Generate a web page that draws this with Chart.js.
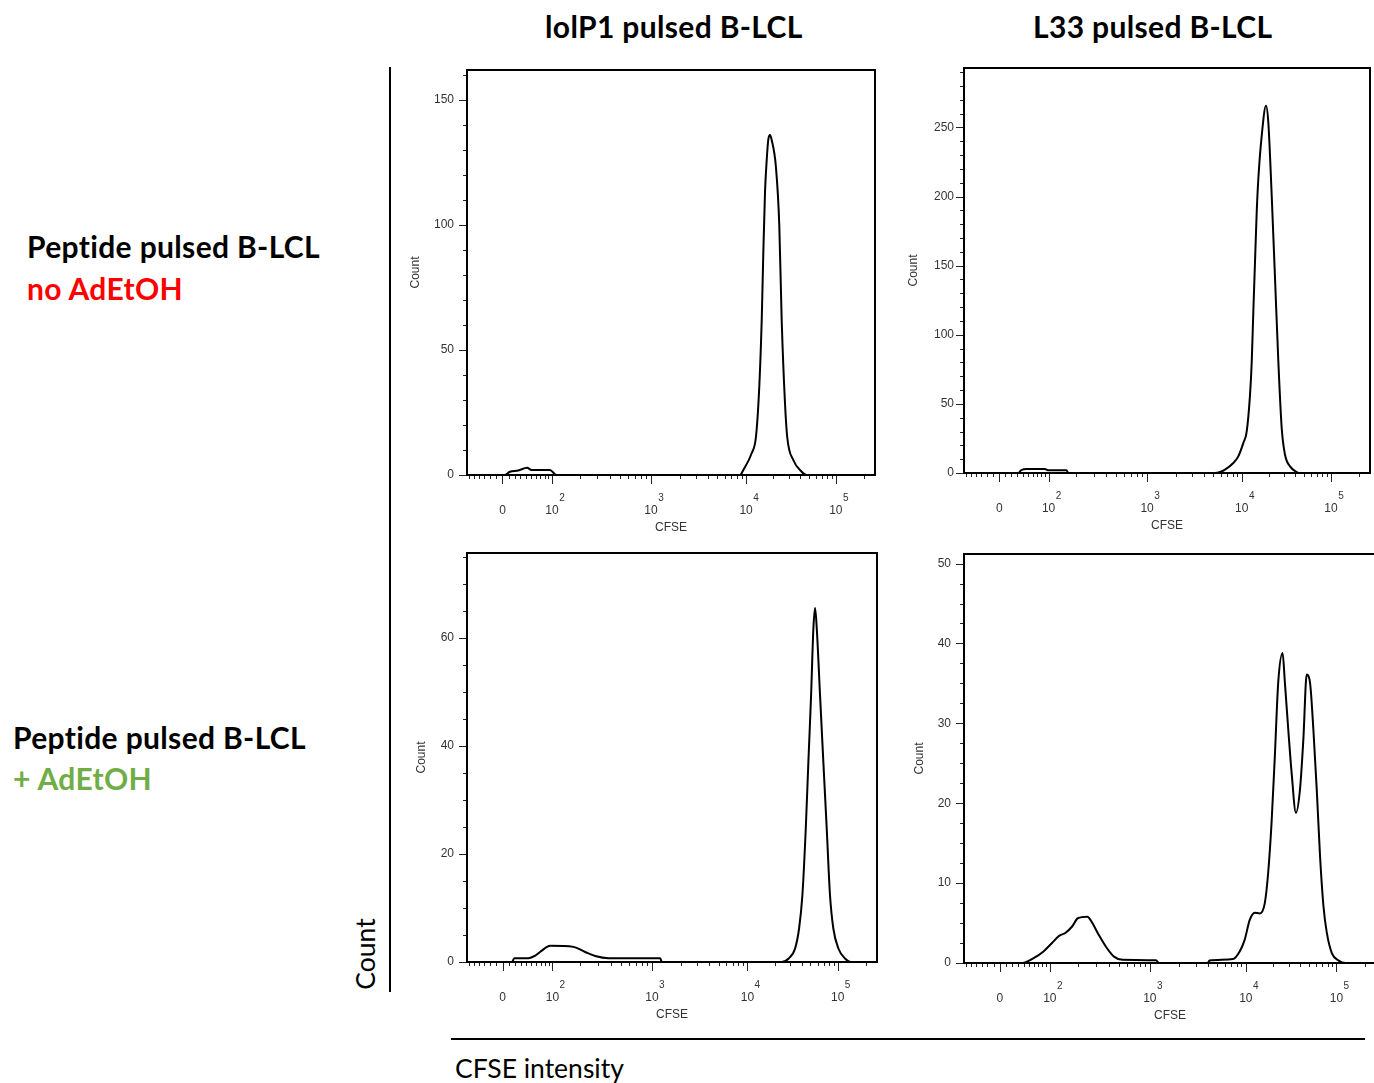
<!DOCTYPE html>
<html><head><meta charset="utf-8">
<script src="https://cdn.jsdelivr.net/npm/chart.js@4.4.0/dist/chart.umd.min.js"></script>
<style>
html,body{margin:0;padding:0;background:#fff;}
body{width:1374px;height:1083px;overflow:hidden;position:relative;font-family:Lato,"Open Sans",sans-serif;}
.t{position:absolute;white-space:nowrap;line-height:1;color:#000;}
.b{font-weight:700;font-size:30px;letter-spacing:0.35px;}
.r{font-weight:400;font-size:26.5px;}
canvas{position:absolute;}
.ln{position:absolute;background:#000;}
</style></head><body>
<div class="t b" style="left:545px;top:11px">lolP1 pulsed B-LCL</div>
<div class="t b" style="left:1033px;top:11px">L33 pulsed B-LCL</div>
<div class="t b" style="left:27px;top:231px">Peptide pulsed B-LCL</div>
<div class="t b" style="left:27px;top:273px;color:#FF0000">no AdEtOH</div>
<div class="t b" style="left:13px;top:722px">Peptide pulsed B-LCL</div>
<div class="t b" style="left:13px;top:763px;color:#70AD47">+ AdEtOH</div>
<div class="ln" style="left:389px;top:67px;width:2px;height:925px"></div>
<div class="t r" style="left:365px;top:954px;transform:translate(-50%,-50%) rotate(-90deg)">Count</div>
<div class="ln" style="left:451px;top:1038px;width:914px;height:2px"></div>
<div class="t r" style="left:455px;top:1055px">CFSE intensity</div>

<canvas id="c1" width="490" height="475" style="left:400px;top:60px"></canvas>
<canvas id="c2" width="490" height="475" style="left:895px;top:58px"></canvas>
<canvas id="c3" width="490" height="479" style="left:400px;top:543px"></canvas>
<canvas id="c4" width="490" height="479" style="left:895px;top:544px"></canvas>

<script>
// ---------- data (CFSE intensity vs cell count) ----------
const xTickValues = [0, 100, 1000, 10000, 100000];
const xTickBase = ['0', '10', '10', '10', '10'];
const xTickExp = ['', '2', '3', '4', '5'];

// lolP1 pulsed, no AdEtOH
const p1X = [-64, 4, 12, 26, 42, 51, 94, 113, 8630, 9350, 11540, 12890, 14030, 14940, 15560, 16250, 16980, 17660, 18460, 19290, 21530, 23440, 24930, 27120, 28770, 33560, 41610, 47340, 262144];
const p1Y = [0, 0, 1.3, 1.8, 2.9, 2, 2, 0, 0, 2, 8.7, 15.3, 35.3, 62, 88.7, 113, 126, 134, 136, 134, 123, 100, 62, 29, 15, 6, 1.3, 0, 0];
const p1YTicks = [0, 50, 100, 150];

// L33 pulsed, no AdEtOH
const p2X = [-64, 32, 37, 48, 90, 98, 158, 165, 5220, 5900, 6660, 8150, 9200, 10420, 11370, 12390, 12950, 13490, 14090, 14720, 15350, 16750, 18710, 19860, 21670, 23610, 25720, 28050, 30550, 34760, 41300, 45000, 262144];
const p2Y = [0, 0, 2, 2.9, 2.9, 2, 2, 0, 0, 0.7, 2.4, 7.2, 12, 21.6, 30, 56.5, 80.5, 116.5, 152.6, 188.7, 212.7, 244, 265.6, 253.6, 200.7, 140.6, 80.5, 32.4, 13.2, 4.8, 0.7, 0, 0];
const p2YTicks = [0, 50, 100, 150, 200, 250];

// lolP1 pulsed, + AdEtOH
const p3X = [-64, 15, 19, 44, 58, 69, 94, 170, 223, 281, 380, 1000, 1221, 1272, 24040, 28440, 33740, 37360, 40640, 44330, 47370, 50760, 53830, 56230, 58710, 63830, 69440, 75670, 82330, 89590, 101800, 120800, 137200, 262144];
const p3Y = [0, 0, 0.7, 0.7, 1.2, 1.9, 3.0, 2.8, 1.85, 1.1, 0.7, 0.7, 0.7, 0, 0, 0.6, 2.5, 6.2, 12.3, 24.7, 37, 49.3, 61.7, 65.5, 61.7, 49.3, 37, 24.7, 12.3, 6.2, 2.5, 0.6, 0, 0];
const p3YTicks = [0, 20, 40, 60];

// L33 pulsed, + AdEtOH
const p4X = [-64, 38, 60, 83, 106, 127, 148, 175, 199, 248, 278, 322, 375, 452, 546, 1158, 1254, 4010, 4190, 7360, 8630, 9730, 11050, 12550, 14260, 16200, 17650, 19220, 20910, 22780, 25450, 26990, 29420, 32030, 35730, 39590, 43150, 46970, 51090, 55670, 60630, 65970, 71900, 78270, 88920, 105500, 124800, 262144];
const p4Y = [0, 0, 0.6, 1.45, 2.5, 3.4, 3.75, 4.6, 5.6, 5.8, 5.0, 3.5, 2.1, 0.8, 0.4, 0.33, 0, 0, 0.3, 0.5, 1.45, 2.9, 5.4, 6.3, 6.2, 7.5, 11.3, 17.5, 25.9, 35.1, 38.8, 35.1, 29.2, 23.8, 18.8, 21.7, 28, 36.1, 35.1, 29.2, 21.7, 13.3, 7.1, 3.8, 1.25, 0.3, 0, 0];
const p4YTicks = [0, 10, 20, 30, 40, 50];

// ---------- biexponential-style axis ----------
class BiexScale extends Chart.Scale {
  determineDataLimits() { this.min = this.options.min; this.max = this.options.max; }
  buildTicks() { return this.options.majorValues.map(v => ({ value: v })); }
  _T(v) { return Math.asinh(v / (2 * this.options.cofactor)) / Math.LN10; }
  _frac(v) {
    const av = this.options.anchors, af = this.options.anchorFractions;
    let i = 0;
    while (i < av.length - 2 && v > av[i + 1]) i++;
    const t0 = this._T(av[i]), t1 = this._T(av[i + 1]);
    return af[i] + (this._T(v) - t0) / (t1 - t0) * (af[i + 1] - af[i]);
  }
  getPixelForValue(v) { return this.getPixelForDecimal(this._frac(v)); }
  getValueForPixel(p) {
    const d = this.getDecimalForPixel(p);
    const av = this.options.anchors, af = this.options.anchorFractions;
    let i = 0;
    while (i < af.length - 2 && d > af[i + 1]) i++;
    const t0 = this._T(av[i]), t1 = this._T(av[i + 1]);
    const t = t0 + (d - af[i]) / (af[i + 1] - af[i]) * (t1 - t0);
    return 2 * this.options.cofactor * Math.sinh(t * Math.LN10);
  }
  getLabelForValue(v) { return String(v); }
}
BiexScale.id = 'biex';
BiexScale.defaults = {};
Chart.register(BiexScale);

const xMin = -64, xMax = 262144;
const xMinor = [];
for (let v = -60; v < 0; v += 10) xMinor.push(v);
for (let d = 10; d <= 10000; d *= 10) for (let k = 1; k <= 9; k++) xMinor.push(k * d);
xMinor.push(200000);

const tickFont = { family: '"Liberation Sans", Arial, sans-serif', size: 12 };

const framePlugin = {
  id: 'frame',
  afterDraw(chart, args, o) {
    const { ctx, chartArea: a } = chart;
    const x = chart.scales.x, y = chart.scales.y;
    ctx.save();
    ctx.strokeStyle = '#222'; ctx.lineWidth = 1;
    ctx.beginPath();
    for (const v of o.xMinor) { const px = Math.round(x.getPixelForValue(v)) + 0.5; ctx.moveTo(px, a.bottom); ctx.lineTo(px, a.bottom + 4); }
    for (const v of o.xMajor) { const px = Math.round(x.getPixelForValue(v)) + 0.5; ctx.moveTo(px, a.bottom); ctx.lineTo(px, a.bottom + 9); }
    for (let v = 0; v <= y.max + 1e-9; v += o.yMinorStep) { const py = Math.round(y.getPixelForValue(v)) + 0.5; ctx.moveTo(a.left, py); ctx.lineTo(a.left - 4, py); }
    for (const v of o.yMajor) { const py = Math.round(y.getPixelForValue(v)) + 0.5; ctx.moveTo(a.left, py); ctx.lineTo(a.left - 8, py); }
    ctx.stroke();
    ctx.lineWidth = 2; ctx.strokeStyle = '#000';
    ctx.strokeRect(a.left, a.top, a.right - a.left, a.bottom - a.top);
    // decade exponents, raised next to the "10" tick labels
    ctx.fillStyle = '#333';
    ctx.textAlign = 'left'; ctx.textBaseline = 'middle';
    ctx.font = '12px "Liberation Sans", Arial, sans-serif';
    const baseW = ctx.measureText('10').width;
    ctx.font = '10px "Liberation Sans", Arial, sans-serif';
    o.xMajor.forEach((v, i) => {
      if (!o.exps[i]) return;
      const px = x.getPixelForValue(v);
      ctx.fillText(o.exps[i], px + baseW / 2 + 0.5, a.bottom + 23);
    });
    ctx.restore();
  }
};

function makeChart(id, xs, ys, yTicks, L) {
  new Chart(document.getElementById(id), {
    type: 'line',
    data: { datasets: [{
      data: xs.map((x, i) => ({ x: x, y: ys[i] })),
      borderColor: '#000', borderWidth: 2, pointRadius: 0,
      cubicInterpolationMode: 'monotone', fill: false
    }] },
    options: {
      responsive: false, animation: false, events: [],
      layout: { padding: { top: L.padTop, right: L.padRight, left: 0, bottom: 0 } },
      plugins: {
        legend: { display: false }, tooltip: { enabled: false },
        frame: { xMinor: xMinor, xMajor: xTickValues, exps: xTickExp, yMajor: yTicks, yMinorStep: L.yMinorStep }
      },
      scales: {
        x: {
          type: 'biex', position: 'bottom', min: xMin, max: xMax, cofactor: 34,
          anchors: [xMin, 0, 100, 1000, 10000, 100000, xMax],
          anchorFractions: [0, 0.087, 0.2083, 0.451, 0.684, 0.904, 1],
          majorValues: xTickValues,
          grid: { display: false, drawTicks: false }, border: { display: false },
          ticks: { padding: 28, autoSkip: false, maxRotation: 0, font: tickFont, color: '#333',
                   callback: (v, i) => xTickBase[i] },
          title: { display: true, text: 'CFSE', font: tickFont, color: '#333', padding: { top: L.xTitlePad, bottom: 0 } },
          afterFit: s => { s.height = 60; s.paddingLeft = 0; s.paddingRight = 0; }
        },
        y: {
          type: 'linear', min: 0, max: L.yMax,
          grid: { display: false, drawTicks: false }, border: { display: false },
          afterBuildTicks: s => { s.ticks = yTicks.map(v => ({ value: v })); },
          ticks: { padding: L.yLabPad, font: tickFont, color: '#333', callback: v => String(v) },
          title: { display: true, text: 'Count', font: tickFont, color: '#333', padding: { top: L.yTitlePad, bottom: 0 } },
          afterFit: s => { s.width = L.yWidth; s.paddingTop = 0; s.paddingBottom = 0; }
        }
      }
    },
    plugins: [framePlugin]
  });
}

makeChart('c1', p1X, p1Y, p1YTicks, { padTop: 10, padRight: 15, yWidth: 67, yMax: 162, yMinorStep: 10, yLabPad: 13, yTitlePad: 8, xTitlePad: 1 });
makeChart('c2', p2X, p2Y, p2YTicks, { padTop: 10, padRight: 15, yWidth: 69, yMax: 293, yMinorStep: 10, yLabPad: 10, yTitlePad: 11, xTitlePad: 1 });
makeChart('c3', p3X, p3Y, p3YTicks, { padTop: 10, padRight: 13, yWidth: 67, yMax: 75.7, yMinorStep: 5, yLabPad: 13, yTitlePad: 14, xTitlePad: 0 });
makeChart('c4', p4X, p4Y, p4YTicks, { padTop: 10, padRight: 9, yWidth: 69, yMax: 51.2, yMinorStep: 2.5, yLabPad: 13, yTitlePad: 17, xTitlePad: 0 });
</script>
</body></html>
